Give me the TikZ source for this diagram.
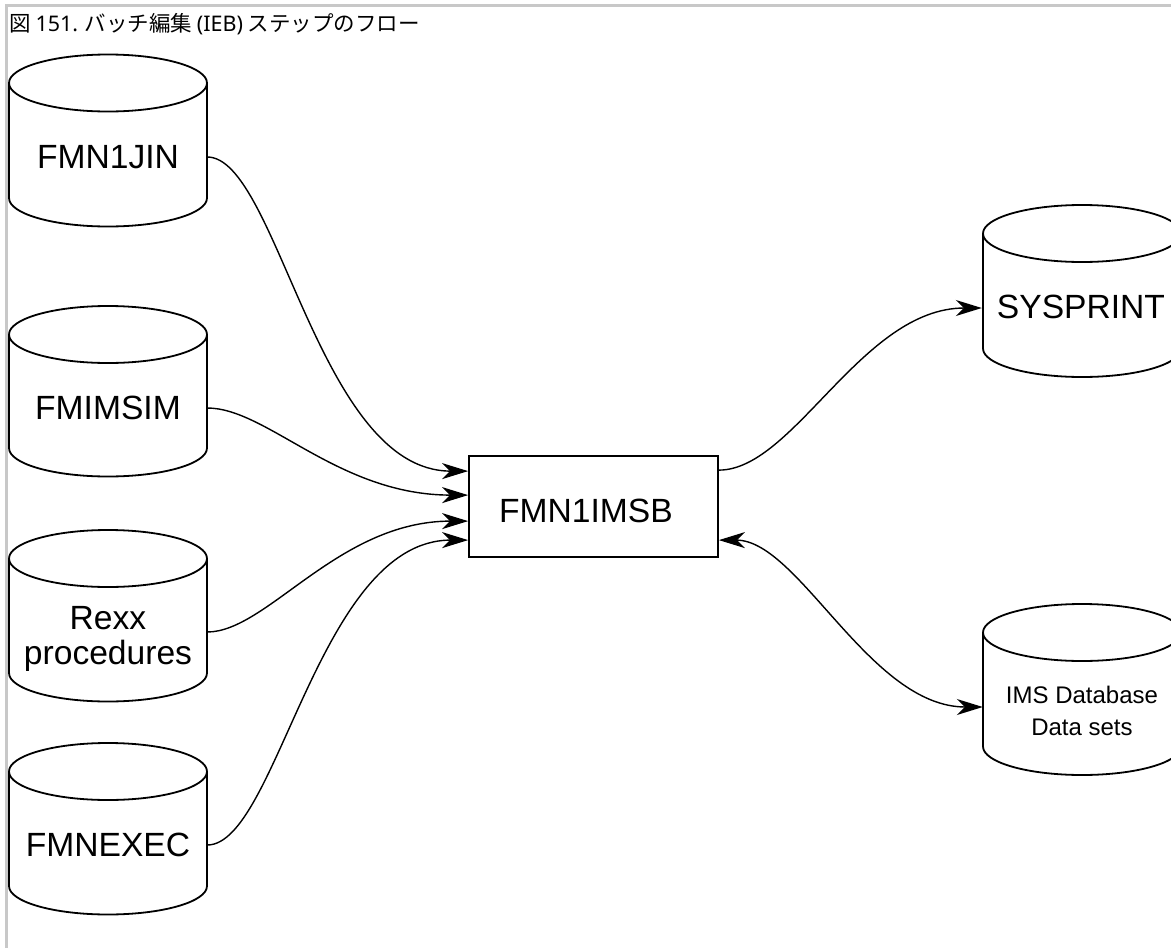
\documentclass[tikz,border=0pt]{standalone}
\usepackage{fontspec}
\setmainfont{Liberation Sans}
\newfontfamily\jpfont{Noto Sans CJK JP}
\newfontfamily\latfont{Noto Sans}
\usetikzlibrary{arrows.meta,calc}
\definecolor{framegray}{RGB}{200,200,200}
\tikzset{
  cylline/.style={line width=1.8pt, draw=black},
  cyltext/.style={minimum width=198pt, inner sep=0pt, align=center, font=\fontsize{33.6}{35}\selectfont},
  smalltext/.style={minimum width=198pt, inner sep=0pt, align=center, font=\fontsize{24}{32}\selectfont},
  tip/.tip={Stealth[length=26pt,width=16pt,inset=8pt]},
  flow/.style={line width=1.4pt, -tip},
  bidi/.style={line width=1.4pt, tip-tip},
  procbox/.style={draw, line width=1.8pt, fill=white, minimum width=249pt, minimum height=101pt, inner sep=0pt},
  titletext/.style={anchor=base west, inner sep=0pt, font=\jpfont\fontsize{21.5}{21.5}\selectfont}
}
% #1 cx, #2 top ellipse centre y, #3 bottom ellipse centre y (y measured downwards)
\newcommand\dbcylshape[3]{%
  \draw[cylline] (#1-99,-#2) -- (#1-99,-#3) arc[start angle=180,end angle=360,x radius=99pt,y radius=28.5pt] -- (#1+99,-#2);
  \draw[cylline] (#1,-#2) ellipse[x radius=99pt, y radius=28.5pt];
}
\begin{document}
\begin{tikzpicture}[x=1pt,y=1pt]
\useasboundingbox (0,0) rectangle (1171,-948);
\fill[white] (0,0) rectangle (1171,-948);
% frame
\draw[framegray, line width=3pt] (6.5,-948) -- (6.5,-5.5) -- (1171,-5.5);
% title
\node[titletext] (title) at (9,-31) {図 {\latfont 151.} バッチ編集 {\latfont (IEB)} ステップのフロー};

% left cylinders
\dbcylshape{108}{83}{198}
\node[cyltext] (jin) at (108,-157) {FMN1JIN};
\dbcylshape{108}{334.5}{448}
\node[cyltext] (sim) at (108,-408) {FMIMSIM};
\dbcylshape{108}{558.5}{673}
\node[cyltext] (rexx) at (108,-639) {Rexx\\procedures};
\dbcylshape{108}{771.5}{886}
\node[cyltext] (exec) at (108,-845) {FMNEXEC};

% right cylinders
\dbcylshape{1082}{233.5}{348.5}
\node[cyltext] (sysprint) at (1081,-307) {SYSPRINT};
\dbcylshape{1082}{632.5}{746.5}
\node[smalltext] (ims) at (1082,-711) {IMS Database\\Data sets};

% program box
\node[procbox] (box) at (593.5,-506.5) {};
\node[inner sep=0pt, font=\fontsize{33.6}{35}\selectfont] (boxlabel) at (586,-511) {FMN1IMSB};

% connectors
\draw[flow] (jin.east) .. controls +(70,0) and +(-150,0) .. ([yshift=-16pt]box.north west);
\draw[flow] (sim.east) .. controls +(60,0) and +(-130,0) .. ([yshift=-40pt]box.north west);
\draw[flow] ([yshift=7pt]rexx.east) .. controls +(60,0) and +(-130,0) .. ([yshift=-66pt]box.north west);
\draw[flow] (exec.east) .. controls +(70,0) and +(-150,0) .. ([yshift=-85pt]box.north west);
\draw[flow] ([yshift=-15pt]box.north east) .. controls +(75,0) and +(-120,0) .. ([yshift=-1pt]sysprint.west);
\draw[bidi] ([yshift=-85pt]box.north east) .. controls +(80,0) and +(-113,0) .. ([yshift=4pt]ims.west);
\end{tikzpicture}
\end{document}
